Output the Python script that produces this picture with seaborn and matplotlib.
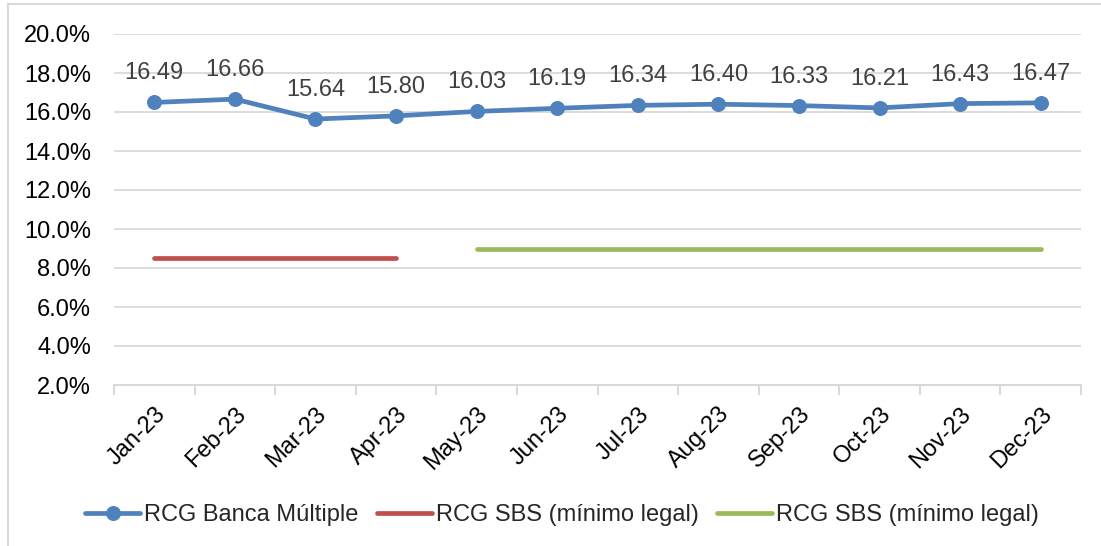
import matplotlib
matplotlib.use("Agg")
import matplotlib.pyplot as plt
import matplotlib.patches as mpatches
import seaborn as sns
import pandas as pd
import numpy as np

months = ["Jan-23", "Feb-23", "Mar-23", "Apr-23", "May-23", "Jun-23",
          "Jul-23", "Aug-23", "Sep-23", "Oct-23", "Nov-23", "Dec-23"]
rcg_banca = [16.49, 16.66, 15.64, 15.80, 16.03, 16.19,
             16.34, 16.40, 16.33, 16.21, 16.43, 16.47]
min_legal_1 = [8.5, 8.5, 8.5, 8.5]          # Jan-23 .. Apr-23
min_legal_2 = [9.0] * 8                     # May-23 .. Dec-23
yticks = [2, 4, 6, 8, 10, 12, 14, 16, 18, 20]

name_main = "RCG Banca Múltiple"
name_min = "RCG SBS (mínimo legal)"

sns.set_theme(style="white")
plt.rcParams["font.family"] = ["Liberation Sans", "DejaVu Sans"]

blue = "#4F81BD"
red = "#C0504D"
green = "#9BBB59"
grid = "#D9D9D9"
fs = 17

fig = plt.figure(figsize=(11.01, 5.46), dpi=100)
ax = fig.add_axes([114 / 1101, 1 - 385 / 546, (1081 - 114) / 1101, (385 - 34) / 546])

pos = np.arange(len(months))
df_main = pd.DataFrame({"x": pos, "y": rcg_banca})
df_r = pd.DataFrame({"x": pos[:4], "y": min_legal_1})
df_g = pd.DataFrame({"x": pos[4:], "y": min_legal_2})

sns.lineplot(data=df_main, x="x", y="y", ax=ax, color=blue, linewidth=3.4,
             marker="o", markersize=10, markeredgecolor=blue, label=name_main, zorder=5)
sns.lineplot(data=df_r, x="x", y="y", ax=ax, color=red, linewidth=3.4,
             label=name_min, zorder=4)
sns.lineplot(data=df_g, x="x", y="y", ax=ax, color=green, linewidth=3.4,
             label=name_min, zorder=4)

for xi, v in zip(pos, rcg_banca):
    ax.annotate(f"{v:.2f}", (xi, v), xytext=(0, 13), textcoords="offset points",
                ha="center", va="bottom", fontsize=fs, color="#404040")

ax.set_xlim(-0.5, len(months) - 0.5)
ax.set_ylim(2, 20)
ax.set_yticks(yticks)
ax.set_yticklabels([f"{t:.1f}%" for t in yticks], fontsize=fs, color="black")
ax.set_xticks(pos)
ax.set_xticklabels(months, fontsize=fs, rotation=45, ha="right",
                   rotation_mode="anchor", color="black")
ax.set_xlabel("")
ax.set_ylabel("")

# gridlines on y only
ax.yaxis.grid(True, color=grid, linewidth=1.3)
ax.xaxis.grid(False)
for s in ["top", "right", "left"]:
    ax.spines[s].set_visible(False)
ax.spines["bottom"].set_color(grid)
ax.spines["bottom"].set_linewidth(1.5)

# category-boundary ticks on the x axis
ax.set_xticks(np.arange(-0.5, len(months) + 0.5, 1), minor=True)
ax.tick_params(axis="x", which="minor", length=7, width=1.5, color=grid, bottom=True)
ax.tick_params(axis="x", which="major", length=0, pad=13)
ax.tick_params(axis="y", length=0, pad=16.5)

leg = ax.legend(loc="center", ncol=3, frameon=False, fontsize=fs, handlelength=2.33,
                handletextpad=0.17, columnspacing=0.76)
leg.set_bbox_to_anchor((562 / 1101, 1 - 515 / 546), transform=fig.transFigure)

# light outer frame of the chart area
fig.patches.append(mpatches.Rectangle((8 / 1101, -0.05), 1.1, 1 - 4 / 546 + 0.05,
                                      transform=fig.transFigure, fill=False,
                                      edgecolor="#D9D9D9", linewidth=1.5))

fig.savefig("out.png", dpi=100)
